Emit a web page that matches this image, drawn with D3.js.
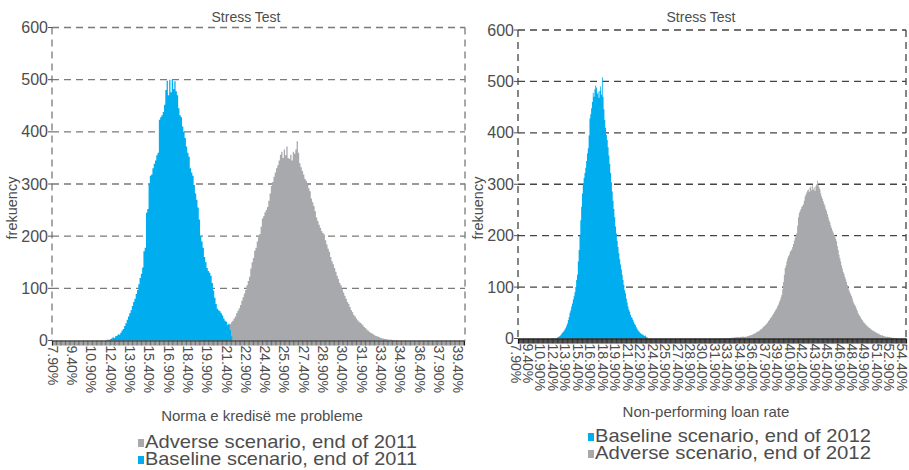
<!DOCTYPE html>
<html>
<head>
<meta charset="utf-8">
<script src="https://cdn.jsdelivr.net/npm/d3@7"></script>
<style>
  html, body { margin: 0; padding: 0; background: #fff; }
  svg { display: block; font-family: "Liberation Sans", "DejaVu Sans", sans-serif; }
  .lbl { fill: #4d4d4d; }
</style>
</head>
<body>
<svg id="chart" width="909" height="470"></svg>
<script>
// ---- Bin ranges (0.1 percentage-point bins) ----
const leftFirstBin = 7.9, leftLastBin = 39.8;
const rightFirstBin = 7.9, rightLastBin = 54.5;

// ---- Tick labels ----
const leftTickLabels = ["7.90%", "9.40%", "10.90%", "12.40%", "13.90%", "15.40%", "16.90%", "18.40%",
  "19.90%", "21.40%", "22.90%", "24.40%", "25.90%", "27.40%", "28.90%", "30.40%", "31.90%",
  "33.40%", "34.90%", "36.40%", "37.90%", "39.40%"];
const rightTickLabels = ["7.90%", "9.40%", "10.90%", "12.40%", "13.90%", "15.40%", "16.90%", "18.40%",
  "19.90%", "21.40%", "22.90%", "24.40%", "25.90%", "27.40%", "28.90%", "30.40%", "31.90%",
  "33.40%", "34.90%", "36.40%", "37.90%", "39.40%", "40.90%", "42.40%", "43.90%", "45.40%",
  "46.90%", "48.40%", "49.90%", "51.40%", "52.90%", "54.40%"];
const yTicks = [0, 100, 200, 300, 400, 500, 600];

// ---- Frequencies: end of 2011 ----
const base2011Start = 12.1;
const base2011Counts = [1, 2, 1, 3, 4, 6, 5, 8, 9, 12, 11, 15, 19, 22, 28, 33, 40, 46, 52, 58,
  66, 74, 80, 89, 97, 108, 120, 128, 140, 171, 178, 245, 252, 300, 316, 318, 330, 339, 345, 355,
  360, 423, 428, 432, 438, 452, 480, 498, 470, 500, 476, 500, 482, 497, 478, 470, 445, 432, 428, 410,
  400, 388, 372, 360, 352, 330, 322, 316, 298, 282, 270, 255, 232, 200, 190, 178, 160, 150, 139, 133,
  130, 124, 110, 96, 82, 70, 61, 58, 56, 52, 48, 42, 38, 36, 30, 32, 20, 8];
const adv2011Start = 19.4;
const adv2011Counts = [1, 0, 2, 1, 2, 3, 4, 5, 6, 8, 9, 10, 12, 13, 14, 15, 17, 19, 21, 22,
  24, 27, 30, 31, 35, 38, 42, 46, 52, 57, 62, 68, 76, 83, 90, 97, 106, 114, 122, 138,
  150, 158, 172, 178, 190, 198, 204, 218, 234, 238, 246, 250, 256, 268, 282, 296, 304, 314, 322, 330,
  336, 345, 356, 362, 350, 366, 355, 372, 350, 348, 356, 345, 362, 358, 366, 382, 360, 340, 332, 325,
  318, 310, 306, 298, 292, 286, 272, 265, 258, 248, 236, 229, 222, 216, 210, 206, 203, 192, 184, 176,
  170, 160, 152, 146, 139, 132, 124, 118, 110, 106, 98, 92, 86, 80, 74, 70, 64, 58, 54, 49,
  46, 42, 39, 36, 34, 32, 29, 26, 24, 21, 19, 17, 15, 14, 12, 10, 9, 8, 7, 6,
  5, 4, 4, 3, 3, 2, 2, 1, 2, 1, 1, 0, 1];

// ---- Frequencies: end of 2012 ----
const base2012Start = 12.3;
const base2012Counts = [1, 0, 1, 2, 3, 4, 5, 7, 9, 11, 13, 15, 18, 21, 25, 29, 36, 42, 50, 55,
  62, 68, 76, 82, 90, 100, 114, 124, 150, 172, 200, 230, 256, 282, 302, 312, 322, 332, 345, 360,
  370, 395, 428, 436, 448, 460, 478, 470, 485, 492, 488, 476, 480, 468, 482, 490, 474, 508, 470, 446,
  425, 410, 396, 386, 372, 356, 340, 322, 304, 286, 268, 252, 236, 218, 204, 190, 178, 166, 154, 144,
  134, 124, 114, 104, 94, 88, 78, 70, 62, 56, 52, 46, 42, 40, 36, 32, 28, 26, 22, 19,
  16, 14, 12, 10, 9, 8, 8, 6, 5, 6, 3, 2, 1];
const adv2012Start = 32.9;
const adv2012Counts = [1, 0, 1, 0, 1, 1, 1, 2, 1, 2, 2, 2, 3, 2, 3, 3, 2, 3, 3, 4,
  3, 4, 3, 4, 3, 4, 5, 5, 6, 6, 7, 7, 8, 9, 9, 10, 11, 13, 13, 14,
  15, 17, 18, 19, 21, 23, 24, 26, 27, 29, 31, 34, 36, 39, 41, 43, 46, 48, 51, 54,
  57, 59, 63, 66, 71, 75, 80, 85, 96, 110, 124, 137, 142, 150, 156, 160, 163, 168, 171, 173,
  178, 184, 190, 196, 200, 205, 220, 236, 244, 248, 252, 256, 258, 261, 268, 276, 280, 284, 288, 290,
  285, 293, 296, 288, 298, 290, 294, 287, 296, 300, 307, 298, 294, 290, 282, 276, 272, 267, 262, 258,
  252, 248, 242, 236, 230, 226, 220, 215, 210, 206, 202, 198, 194, 189, 180, 172, 163, 156, 150, 142,
  136, 130, 126, 120, 115, 110, 104, 98, 94, 90, 86, 82, 78, 72, 68, 65, 62, 58, 54, 49,
  46, 44, 41, 38, 36, 33, 31, 29, 27, 26, 24, 23, 21, 20, 19, 17, 16, 15, 14, 13,
  12, 11, 10, 9, 9, 8, 7, 6, 7, 5, 5, 4, 4, 3, 4, 3, 3, 3, 2, 2,
  1, 2, 1, 1, 0, 1];

const BLUE = "#00aeef";
const GREY = "#a7a9ac";

const svg = d3.select("#chart");
const fmt = v => v.toFixed(2) + "%";

function binLabels(first, last) {
  const n = Math.round((last - first) * 10) + 1;
  return d3.range(n).map(i => fmt(first + i / 10));
}

function seriesData(start, counts) {
  return counts.map((c, i) => ({ bin: fmt(start + i / 10), value: c }));
}

function drawPanel(p) {
  const g = svg.append("g");
  const bins = binLabels(p.first, p.last);
  const x = d3.scaleBand().domain(bins).range([p.left, p.right]).padding(0);
  const y = d3.scaleLinear().domain([0, 600]).range([p.bottom, p.top]);
  const bw = x.bandwidth();

  // dashed gridlines and frame
  const dash = { stroke: p.gridColor, "stroke-width": 1.3, "stroke-dasharray": "7,5" };
  const styled = sel => { Object.entries(dash).forEach(([k, v]) => sel.attr(k, v)); return sel; };
  styled(g.selectAll(".grid").data(yTicks.filter(d => d > 0)).join("line")
    .attr("x1", p.left).attr("x2", p.frameRight)
    .attr("y1", d => y(d)).attr("y2", d => y(d)));
  styled(g.append("line")
    .attr("x1", p.frameRight).attr("x2", p.frameRight)
    .attr("y1", y(600)).attr("y2", y(0)));
  styled(g.append("line")
    .attr("x1", p.left).attr("x2", p.left)
    .attr("y1", y(600)).attr("y2", y(0)));

  // histogram columns, drawn as one stepped outline per series
  const area = d3.area()
    .curve(d3.curveStepAfter)
    .x(d => d.x)
    .y0(y(0))
    .y1(d => y(d.value));
  p.series.forEach(s => {
    const pts = s.data.map(d => ({ x: x(d.bin), value: d.value }));
    const last = s.data[s.data.length - 1];
    pts.push({ x: x(last.bin) + bw, value: last.value });
    g.append("path").datum(pts).attr("d", area).attr("fill", s.color);
  });

  // y axis ticks and labels
  g.selectAll(".ytick").data(yTicks).join("line")
    .attr("x1", p.left - 4).attr("x2", p.left)
    .attr("y1", d => y(d)).attr("y2", d => y(d))
    .attr("stroke", "#555").attr("stroke-width", 1);
  g.selectAll(".ylab").data(yTicks).join("text")
    .attr("class", "lbl")
    .attr("x", p.left - 4).attr("y", d => y(d))
    .attr("dy", "0.35em").attr("text-anchor", "end")
    .attr("font-size", 16)
    .text(d => d);

  // x axis: a tick for every bin
  const xAxis = d3.axisBottom(x).tickSize(5).tickFormat("");
  const ax = g.append("g").attr("transform", `translate(0,${y(0)})`).call(xAxis);
  ax.select(".domain").attr("stroke", "#222").attr("stroke-width", 1.2);
  ax.selectAll(".tick line").attr("stroke", p.tickColor).attr("stroke-width", p.tickWidth);

  // rotated percentage labels
  g.selectAll(".xlab").data(p.tickLabels).join("text")
    .attr("class", "lbl")
    .attr("font-size", 14)
    .attr("transform", d => `translate(${x(d) + bw / 2 - p.labelShift},${y(0) + 5}) rotate(90)`)
    .attr("dy", "0.35em")
    .text(d => d);

  // titles
  g.append("text").attr("class", "lbl").attr("x", p.titleX).attr("y", 22)
    .attr("text-anchor", "middle").attr("font-size", 14).text("Stress Test");
  g.append("text").attr("class", "lbl")
    .attr("transform", `translate(${p.yTitleX},208) rotate(-90)`)
    .attr("text-anchor", "middle").attr("font-size", 14.5).text("frekuency");
  g.append("text").attr("class", "lbl").attr("x", p.xTitleX).attr("y", p.xTitleY)
    .attr("text-anchor", "middle").attr("font-size", 15).text(p.xTitle);

  // legend
  p.legend.forEach((l, i) => {
    const by = p.legendY + i * 17;
    g.append("rect").attr("x", p.legendX).attr("y", by - 9).attr("width", 6).attr("height", 8)
      .attr("fill", l.color);
    g.append("text").attr("class", "lbl").attr("x", p.legendX + 7).attr("y", by)
      .attr("font-size", 19).attr("textLength", p.legendWidth).attr("lengthAdjust", "spacingAndGlyphs")
      .text(l.label);
  });
}

drawPanel({
  first: leftFirstBin, last: leftLastBin,
  left: 52, right: 464, frameRight: 465, top: 27.5, bottom: 340.5,
  gridColor: "#7a7a7a", tickColor: "#333", tickWidth: 0.7, labelShift: 0,
  tickLabels: leftTickLabels,
  series: [
    { color: GREY, data: seriesData(adv2011Start, adv2011Counts) },
    { color: BLUE, data: seriesData(base2011Start, base2011Counts) }
  ],
  titleX: 246, yTitleX: 17, xTitleX: 262, xTitleY: 421,
  xTitle: "Norma e kredisë me probleme",
  legendX: 138, legendY: 448, legendWidth: 272,
  legend: [
    { color: GREY, label: "Adverse scenario, end of 2011" },
    { color: BLUE, label: "Baseline scenario, end of 2011" }
  ]
});

drawPanel({
  first: rightFirstBin, last: rightLastBin,
  left: 518, right: 906, frameRight: 906, top: 30, bottom: 338.5,
  gridColor: "#444", tickColor: "#111", tickWidth: 0.8, labelShift: 3,
  tickLabels: rightTickLabels,
  series: [
    { color: BLUE, data: seriesData(base2012Start, base2012Counts) },
    { color: GREY, data: seriesData(adv2012Start, adv2012Counts) }
  ],
  titleX: 701, yTitleX: 483, xTitleX: 706, xTitleY: 417,
  xTitle: "Non-performing loan rate",
  legendX: 588, legendY: 442, legendWidth: 276,
  legend: [
    { color: BLUE, label: "Baseline scenario, end of 2012" },
    { color: GREY, label: "Adverse scenario, end of 2012" }
  ]
});
</script>
</body>
</html>
